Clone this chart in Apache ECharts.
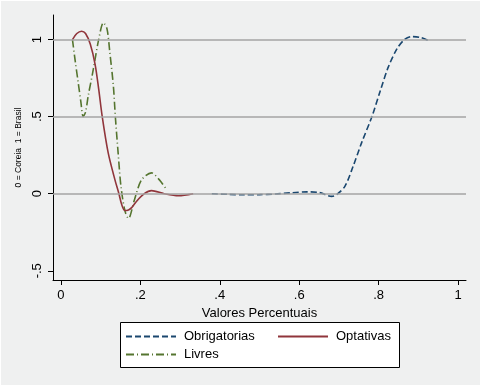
<!DOCTYPE html>
<html>
<head>
<meta charset="utf-8">
<script src="https://cdn.jsdelivr.net/npm/echarts@6/dist/echarts.min.js"></script>
<style>
  html, body { margin: 0; padding: 0; background: #ffffff; }
  #chart { position: absolute; left: 1px; top: 1px; width: 479px; height: 384px; background: #eff0f0; }
</style>
</head>
<body>
<div id="chart"></div>
<script>
// tick values / labels
const xTickValues = [0, 0.2, 0.4, 0.6, 0.8, 1];
const xTickLabels = ['0', '.2', '.4', '.6', '.8', '1'];
const yTickValues = [-0.5, 0, 0.5, 1];
const yTickLabels = ['-.5', '0', '.5', '1'];
const gridValues = [0, 0.5, 1];

// Obrigatorias
const obrigX = [0.38, 0.42, 0.46, 0.50, 0.54, 0.58, 0.62, 0.65, 0.682, 0.694, 0.715, 0.736, 0.757, 0.783, 0.804, 0.824, 0.846, 0.865, 0.883, 0.904, 0.925];
const obrigY = [0, -0.004, -0.007, -0.006, -0.002, 0.006, 0.012, 0.008, -0.017, -0.006, 0.048, 0.18, 0.33, 0.5, 0.667, 0.82, 0.94, 1.0, 1.02, 1.015, 0.995];

// Optativas
const optX = [0.029, 0.04, 0.052, 0.062, 0.074, 0.086, 0.095, 0.104, 0.119, 0.136, 0.146, 0.153, 0.161, 0.17, 0.178, 0.19, 0.21, 0.228, 0.26, 0.296, 0.333];
const optY = [1.0, 1.04, 1.055, 1.04, 0.97, 0.84, 0.68, 0.5, 0.265, 0.09, 0, -0.07, -0.109, -0.105, -0.09, -0.05, 0, 0.02, 0.0, -0.013, 0];

// Livres
const livX = [0.029, 0.036, 0.043, 0.05, 0.056, 0.062, 0.069, 0.081, 0.095, 0.107, 0.116, 0.123, 0.132, 0.137, 0.144, 0.151, 0.161, 0.17, 0.185, 0.203, 0.228, 0.248, 0.266];
const livY = [1.0, 0.86, 0.73, 0.6, 0.5, 0.53, 0.64, 0.8, 1.0, 1.11, 1.07, 0.92, 0.7, 0.5, 0.265, 0.05, -0.11, -0.16, -0.04, 0.09, 0.135, 0.09, 0.026];

const pairs = (xs, ys) => xs.map((x, i) => [x, ys[i]]);
const font = 'Liberation Sans, Arial, sans-serif';
const legendText = { color: '#000', fontSize: 13, fontFamily: font, padding: [0, 0, 0, 3] };

const chart = echarts.init(document.getElementById('chart'));
const option = {
  animation: false,
  textStyle: { fontFamily: font },
  grid: { left: 52, top: 14, right: 14, bottom: 105 },
  xAxis: {
    type: 'value',
    min: -0.02,
    max: 1.02,
    name: 'Valores Percentuais',
    nameLocation: 'middle',
    nameGap: 14,
    nameTextStyle: { color: '#000', fontSize: 13, fontFamily: font },
    splitLine: { show: false },
    axisLine: { show: true, onZero: false, lineStyle: { color: '#000', width: 1 } },
    axisTick: { show: true, length: 5, customValues: xTickValues, lineStyle: { color: '#000' } },
    axisLabel: {
      customValues: xTickValues,
      margin: 9,
      color: '#000',
      fontSize: 13,
      fontFamily: font,
      formatter: v => xTickLabels[xTickValues.findIndex(t => Math.abs(t - v) < 1e-9)]
    }
  },
  yAxis: {
    type: 'value',
    min: -0.56,
    max: 1.16,
    name: '0 = Coreia  1 = Brasil',
    nameLocation: 'middle',
    nameGap: 21,
    nameRotate: 90,
    nameTextStyle: { color: '#000', fontSize: 8.5, fontFamily: font },
    splitLine: { show: false },
    axisLine: { show: true, onZero: false, lineStyle: { color: '#000', width: 1 } },
    axisTick: { show: true, length: 5, customValues: yTickValues, lineStyle: { color: '#000' } },
    axisLabel: {
      customValues: yTickValues,
      rotate: 90,
      margin: 9,
      color: '#000',
      fontSize: 13,
      fontFamily: font,
      formatter: v => yTickLabels[yTickValues.findIndex(t => Math.abs(t - v) < 1e-9)]
    }
  },
  graphic: [{
    type: 'rect',
    left: 119,
    top: 321,
    shape: { width: 279, height: 45 },
    style: { fill: '#ffffff', stroke: '#000', lineWidth: 1 },
    z: 0
  }],
  legend: [
    {
      data: ['Obrigatorias', 'Livres'],
      orient: 'vertical',
      left: 124,
      top: 329,
      padding: 0,
      itemWidth: 50,
      itemHeight: 14,
      itemGap: 5,
      itemStyle: { opacity: 0 },
      textStyle: legendText,
      z: 5
    },
    {
      data: ['Optativas'],
      orient: 'vertical',
      left: 276,
      top: 329,
      padding: 0,
      itemWidth: 50,
      itemHeight: 14,
      itemStyle: { opacity: 0 },
      textStyle: legendText,
      z: 5
    }
  ],
  series: [
    {
      name: 'grid',
      type: 'line',
      data: [],
      z: 1,
      silent: true,
      markLine: {
        silent: true,
        symbol: 'none',
        label: { show: false },
        lineStyle: { color: '#a4a4a4', width: 1.5, type: 'solid' },
        data: gridValues.map(v => ({ yAxis: v }))
      }
    },
    {
      name: 'Obrigatorias',
      type: 'line',
      data: pairs(obrigX, obrigY),
      smooth: 0.3,
      showSymbol: false,
      symbol: 'none',
      color: '#1a476f',
      lineStyle: { color: '#1a476f', width: 1.6, type: [6, 3] },
      z: 3
    },
    {
      name: 'Optativas',
      type: 'line',
      data: pairs(optX, optY),
      smooth: 0.3,
      showSymbol: false,
      symbol: 'none',
      color: '#90353b',
      lineStyle: { color: '#90353b', width: 1.6, type: 'solid' },
      z: 3
    },
    {
      name: 'Livres',
      type: 'line',
      data: pairs(livX, livY),
      smooth: 0.3,
      showSymbol: false,
      symbol: 'none',
      color: '#55752f',
      lineStyle: { color: '#55752f', width: 1.6, type: [8, 3, 1, 3] },
      z: 2
    }
  ]
};
chart.setOption(option);
</script>
</body>
</html>
